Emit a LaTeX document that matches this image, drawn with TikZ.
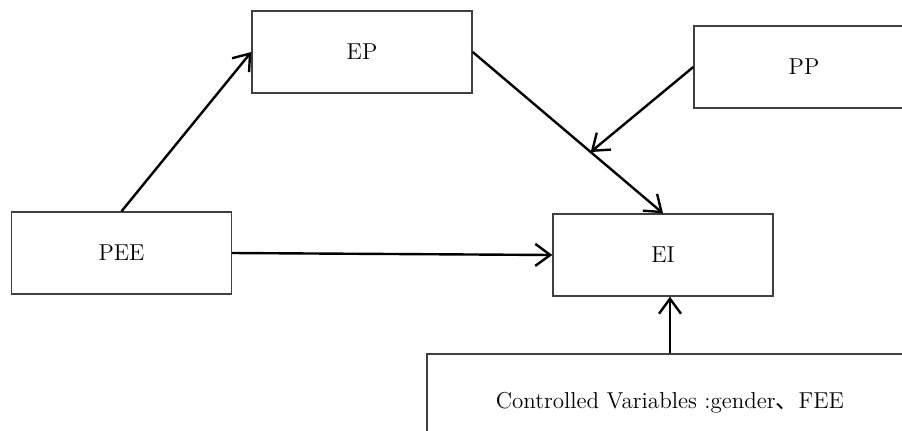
\documentclass[tikz,border=0pt]{standalone}
\usepackage{fontspec}
\newfontfamily\cjk{Noto Sans CJK SC}
\usetikzlibrary{positioning,arrows.meta,calc}

\begin{document}
\begin{tikzpicture}[x=0.5pt, y=-0.5pt, font=\fontsize{11.5}{14}\selectfont,
    varbox/.style={draw=black!75, line width=0.7pt, minimum width=110pt, minimum height=41pt, inner sep=0pt},
    link/.style={-{Straight Barb[length=7.5pt,width=11pt]}, line width=1.2pt}]
        \path[use as bounding box, clip] (0,0) rectangle (902,430);
        \foreach \x/\y/\name in {362/52/EP,121.5/253/PEE,804/67/PP,663/255/EI}{\node[varbox] (\name) at (\x,\y) {\name};}
        \node[varbox, minimum width=243pt, minimum height=49pt] (ctrl) at (670,403) {Controlled Variables :gender{\cjk 、}FEE};
        \coordinate (mid) at ($(EP.east)!0.62!(EI.north)$);
       \draw[link] (PEE.north) -- (EP.west);
       \draw[link] (EP.east) -- (EI.north);
       \draw[link] (PP.west) -- (mid);
       \draw[link] (PEE.east) -- (EI.west);
       \draw[link] (ctrl.north) -- (ctrl.north |- EI.south);
\end{tikzpicture}
\end{document}
